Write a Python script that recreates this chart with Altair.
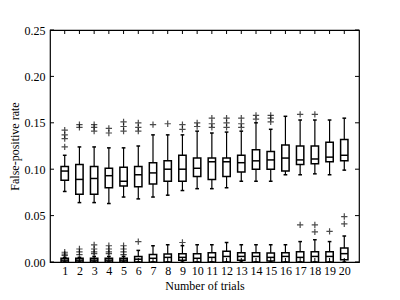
import altair as alt
import pandas as pd

trials = list(range(1, 21))

# upper group (about 0.1)
hi_lo = [0.076, 0.064, 0.064, 0.063, 0.070, 0.068, 0.070, 0.072, 0.077, 0.079,
         0.079, 0.080, 0.087, 0.087, 0.087, 0.094, 0.094, 0.095, 0.094, 0.099]
hi_q1 = [0.088, 0.073, 0.073, 0.080, 0.082, 0.081, 0.084, 0.087, 0.087, 0.092,
         0.089, 0.092, 0.097, 0.100, 0.100, 0.098, 0.105, 0.106, 0.108, 0.109]
hi_med = [0.098, 0.089, 0.090, 0.093, 0.087, 0.094, 0.096, 0.100, 0.100, 0.101,
          0.108, 0.108, 0.107, 0.109, 0.110, 0.112, 0.110, 0.111, 0.113, 0.115]
hi_q3 = [0.103, 0.105, 0.103, 0.101, 0.102, 0.103, 0.107, 0.109, 0.115, 0.112,
         0.112, 0.112, 0.115, 0.121, 0.119, 0.126, 0.125, 0.125, 0.129, 0.132]
hi_hi = [0.115, 0.124, 0.124, 0.123, 0.123, 0.125, 0.137, 0.137, 0.137, 0.141,
         0.139, 0.140, 0.141, 0.150, 0.143, 0.157, 0.153, 0.153, 0.153, 0.155]
hi_fliers = [[0.142, 0.137, 0.133, 0.124], [0.148, 0.145], [0.148, 0.145, 0.141],
             [0.144, 0.139], [0.151, 0.146, 0.141], [0.150, 0.145, 0.141],
             [0.148], [0.149], [0.148, 0.143], [0.150, 0.146],
             [0.155, 0.149, 0.145], [0.155, 0.150, 0.145], [0.155, 0.149, 0.145],
             [0.158, 0.154], [0.158, 0.155, 0.151], [], [0.159], [0.159], [], []]

# lower group (near 0)
lo_lo = [0.0] * 20
lo_q1 = [0.0, 0.0, 0.0, 0.0, 0.0, 0.0, 0.0, 0.0, 0.002, 0.0,
         0.0, 0.0, 0.002, 0.0, 0.001, 0.0, 0.0, 0.0, 0.0, 0.0025]
lo_med = [0.002, 0.002, 0.002, 0.002, 0.002, 0.003, 0.004, 0.005, 0.005, 0.004,
          0.005, 0.006, 0.006, 0.006, 0.005, 0.006, 0.005, 0.006, 0.006, 0.009]
lo_q3 = [0.004, 0.004, 0.004, 0.004, 0.004, 0.006, 0.008, 0.0086, 0.009, 0.009,
         0.010, 0.0115, 0.010, 0.010, 0.0097, 0.010, 0.011, 0.011, 0.011, 0.015]
lo_hi = [0.005, 0.005, 0.006, 0.006, 0.006, 0.0125, 0.0175, 0.0186, 0.0176, 0.0186,
         0.0186, 0.021, 0.0186, 0.0186, 0.0186, 0.0186, 0.022, 0.024, 0.022, 0.028]
lo_fliers = [[0.0105, 0.0085, 0.007], [0.014, 0.011, 0.008], [0.0185, 0.014, 0.011, 0.009],
             [0.0175, 0.014, 0.011, 0.009], [0.0175, 0.014, 0.011, 0.008], [0.022],
             [], [], [0.021], [], [], [], [], [], [], [], [0.040], [0.040, 0.0325],
             [0.033], [0.049, 0.041]]

y_ticks = [0.0, 0.05, 0.10, 0.15, 0.20, 0.25]

rows = []
flier_rows = []
for grp, lo, q1, md, q3, hi, fl in [
    ("high", hi_lo, hi_q1, hi_med, hi_q3, hi_hi, hi_fliers),
    ("low", lo_lo, lo_q1, lo_med, lo_q3, lo_hi, lo_fliers),
]:
    for i, t in enumerate(trials):
        rows.append(dict(trial=t, group=grp, lo=lo[i], q1=q1[i], med=md[i], q3=q3[i], hi=hi[i]))
        for v in fl[i]:
            flier_rows.append(dict(trial=t, value=v))

box_df = pd.DataFrame(rows)
flier_df = pd.DataFrame(flier_rows)
ytick_df = pd.DataFrame({"v": y_ticks})
xtick_df = pd.DataFrame({"t": trials})

W, H = 309, 232
FONT = "Liberation Serif"

xs = alt.Scale(domain=[0, 21], nice=False, zero=False)
ys = alt.Scale(domain=[0, 0.25], nice=False, zero=False)

xaxis = alt.Axis(values=trials, format="d", ticks=False, domain=False, grid=False,
                 labelFont=FONT, labelFontSize=12, labelColor="black", labelPadding=3,
                 title="Number of trials", titleFont=FONT, titleFontSize=12,
                 titleFontWeight="normal", titleColor="black", titlePadding=4,
                 labelFlush=False, labelOverlap=False, labelBound=False)
yaxis = alt.Axis(values=y_ticks, format=".2f", ticks=False, domain=False, grid=False,
                 labelFont=FONT, labelFontSize=12, labelColor="black", labelPadding=5,
                 title="False-positive rate", titleFont=FONT, titleFontSize=12,
                 titleFontWeight="normal", titleColor="black", titlePadding=3,
                 labelFlush=False, labelOverlap=False, labelBound=False)


def X(field):
    return alt.X(field, type="quantitative", scale=xs, axis=xaxis)


def Y(field):
    return alt.Y(field, type="quantitative", scale=ys, axis=yaxis)


base = alt.Chart(box_df).transform_calculate(
    xl="datum.trial - 0.25", xr="datum.trial + 0.25",
    cl="datum.trial - 0.125", cr="datum.trial + 0.125",
)

whisk = base.mark_rule(color="black", strokeWidth=1.2).encode(
    x=X("trial"), y=Y("lo"), y2="hi:Q",
)
box = base.mark_rect(fill="white", stroke="black", strokeWidth=1.5).encode(
    x=X("xl"), x2="xr:Q", y=Y("q1"), y2="q3:Q",
)
med = base.mark_rule(color="black", strokeWidth=1.5).encode(
    x=X("xl"), x2="xr:Q", y=Y("med"),
)
cap_lo = base.mark_rule(color="black", strokeWidth=1.5).encode(
    x=X("cl"), x2="cr:Q", y=Y("lo"),
)
cap_hi = base.mark_rule(color="black", strokeWidth=1.5).encode(
    x=X("cl"), x2="cr:Q", y=Y("hi"),
)
fliers = alt.Chart(flier_df).mark_point(
    shape="M-1,0L1,0M0,-1L0,1", filled=False, stroke="black", strokeWidth=1.2, size=40
).encode(
    x=X("trial"), y=Y("value"),
)

ytl = alt.Chart(ytick_df).mark_rule(color="black", strokeWidth=1).encode(
    y=Y("v"), x=alt.value(0), x2=alt.value(4))
ytr = alt.Chart(ytick_df).mark_rule(color="black", strokeWidth=1).encode(
    y=Y("v"), x=alt.value(W - 4), x2=alt.value(W))
xtb = alt.Chart(xtick_df).mark_rule(color="black", strokeWidth=1).encode(
    x=X("t"), y=alt.value(H), y2=alt.value(H - 4))
xtt = alt.Chart(xtick_df).mark_rule(color="black", strokeWidth=1).encode(
    x=X("t"), y=alt.value(0), y2=alt.value(4))

chart = alt.layer(whisk, box, med, cap_lo, cap_hi, fliers, ytl, ytr, xtb, xtt).properties(
    width=W, height=H,
    autosize=alt.AutoSizeParams(type="none"),
    padding={"left": 42, "top": 22, "right": 33, "bottom": 38},
    background="white",
).configure_view(stroke="black", strokeWidth=1.2)

chart.save("out.html", embed_options={"renderer": "svg", "actions": False})
